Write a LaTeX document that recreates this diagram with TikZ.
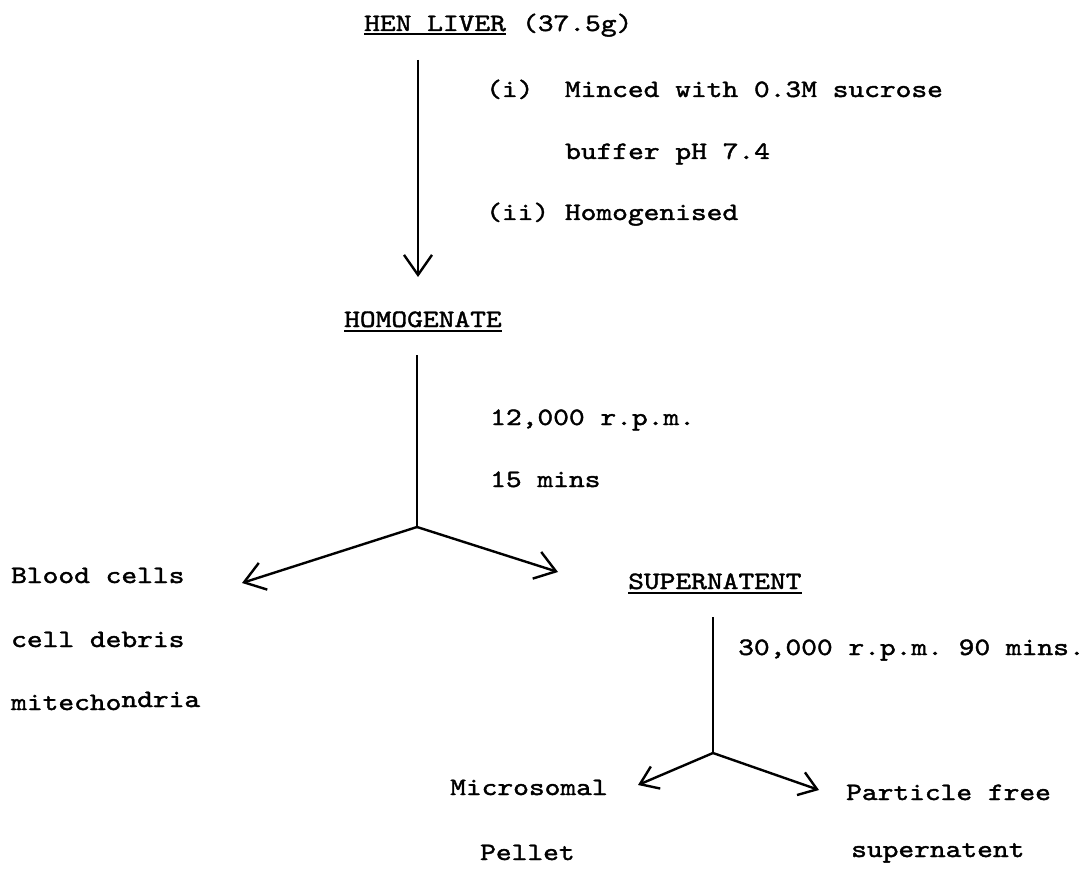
\documentclass[tikz,border=0pt]{standalone}
\usepackage{fontspec}
\usetikzlibrary{arrows.meta}
\newfontfamily\tw{lmmono10-regular}[Extension=.otf,FakeStretch=1.2,FakeBold=1.6]
\frenchspacing
\begin{document}
\begin{tikzpicture}[x=1pt,y=-1pt,
  lbl/.style={anchor=base west,inner sep=0pt,font=\tw\fontsize{25}{30}\selectfont\frenchspacing},
  flow/.style={line width=2.4pt},
  arr/.style={flow,-{Straight Barb[length=20pt,width=28pt]}},
  arrsm/.style={flow,-{Straight Barb[length=17pt,width=24pt]}},
  uline/.style={line width=2.6pt}]
\fill[white] (0,0) rectangle (1090,869);
\useasboundingbox (0,0) rectangle (1090,869);

% starting material and first step
\node[lbl] (hen) at (364,31) {HEN LIVER};
\node[lbl] (henmass) at ([xshift=15.75pt]hen.base east) {(37.5g)};
\draw[uline] ([yshift=-3pt]hen.base west) -- ([yshift=-3pt]hen.base east);

\node[lbl] (minced) at (486,97) {(i)\ \ Minced with 0.3M sucrose};
\node[lbl] (buffer) at (565,159) {buffer pH 7.4};
\node[lbl] (homog) at (486,220) {(ii) Homogenised};

\node[lbl] (homogenate) at (344,327) {HOMOGENATE};
\draw[uline] ([yshift=-4pt]homogenate.base west) -- ([yshift=-4pt]homogenate.base east);

\coordinate (a1s) at (418,60);
\coordinate (a1e) at (418,277);
\draw[arr] (a1s) -- (a1e);

% first centrifugation
\node[lbl] (rpm12) at (490,425) {12,000 r.p.m.};
\node[lbl] (mins15) at (490,487) {15 mins};

\coordinate (b1s) at (417,355);
\coordinate (j1) at (417,527);
\coordinate (tipL1) at (242,583);
\coordinate (tipR1) at (558,572);
\draw[flow] (b1s) -- (j1);
\draw[arr] (j1) -- (tipL1);
\draw[arr] (j1) -- (tipR1);

\node[lbl] (blood) at (11,583) {Blood cells};
\node[lbl] (debris) at (11,647) {cell debris};
\node[lbl] (mito) at (11,710) {mitecho\raisebox{3pt}{ndria}};

\node[lbl] (super) at (628,589) {SUPERNATENT};
\draw[uline] ([yshift=-4pt]super.base west) -- ([yshift=-4pt]super.base east);

% second centrifugation
\node[lbl] (rpm30) at (738,655) {30,000 r.p.m. 90 mins.};

\coordinate (b2s) at (713,617);
\coordinate (j2) at (713,753);
\coordinate (tipL2) at (638,785);
\coordinate (tipR2) at (819,790);
\draw[flow] (b2s) -- (j2);
\draw[arrsm] (j2) -- (tipL2);
\draw[arrsm] (j2) -- (tipR2);

\node[lbl] (micro) at (450,795) {Microsomal};
\node[lbl] (pellet) at (480,860) {Pellet};
\node[lbl] (particle) at (846,800) {Particle free};
\node[lbl] (supern) at (851,857) {supernatent};
\end{tikzpicture}
\end{document}
